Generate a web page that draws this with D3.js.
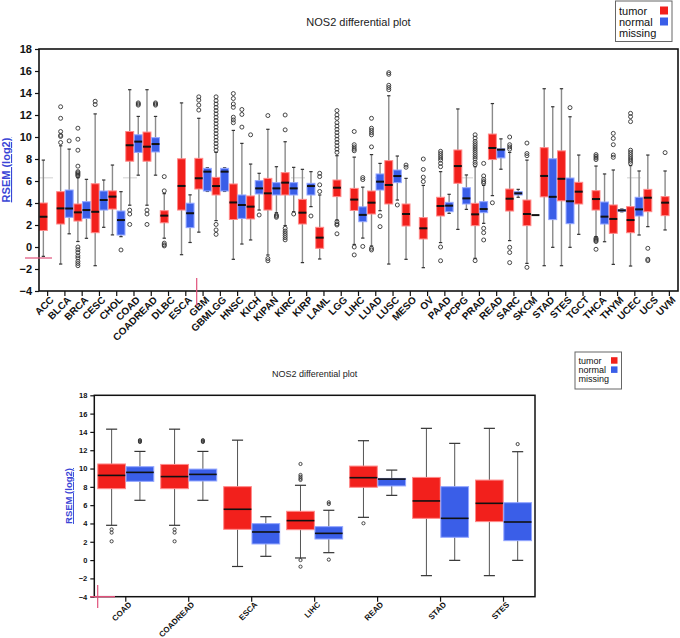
<!DOCTYPE html>
<html>
<head>
<meta charset="utf-8">
<script src="https://cdn.jsdelivr.net/npm/d3@7"></script>
<style>
body{margin:0;background:#fff}
svg{display:block;font-family:"Liberation Sans",Arial,sans-serif}
</style>
</head>
<body>
<svg width="680" height="638"></svg>
<script>
// cancer types, top panel
var cats = ["ACC","BLCA","BRCA","CESC","CHOL","COAD","COADREAD","DLBC","ESCA","GBM","GBMLGG","HNSC","KICH","KIPAN","KIRC","KIRP","LAML","LGG","LIHC","LUAD","LUSC","MESO","OV","PAAD","PCPG","PRAD","READ","SARC","SKCM","STAD","STES","TGCT","THCA","THYM","UCEC","UCS","UVM"]

// [whisker low, q1, median, q3, whisker high]
var tumor = [
  [-0.85,1.5,2.75,4.0,7.9],[-1.55,2.09,3.51,5.03,9.2],[0.5,2.36,3.15,3.91,6.3],[-1.7,1.3,3.2,5.75,12.1],
  [1.1,3.45,4.58,5.1,7.45],[3.8,7.8,9.25,10.5,14.3],[3.8,7.8,9.12,10.45,14.3],[0.8,2.2,2.85,3.3,4.85],
  [-0.7,3.36,5.55,8.02,13.1],[1.35,5.27,6.25,8.06,11.7],[2.4,4.73,5.54,6.33,8.6],[-1.12,2.5,4.05,5.73,10.6],
  [0.64,2.55,3.67,4.64,7.54],[-0.73,3.36,4.88,6.24,10.7],[1.95,4.73,5.85,6.76,9.57],[-1.42,2.09,3.12,4.33,7.06],
  [-1.09,-0.12,0.85,1.79,4.73],[2.45,4.58,5.39,6.09,8.3],[0.23,3.32,4.31,5.33,8.17],[0.09,3.0,4.03,5.09,8.4],
  [-1.55,3.91,5.64,7.85,13.75],[-1.12,1.91,3.0,3.91,6.24],[-1.88,0.73,1.7,2.67,5.6],[0.4,2.82,3.73,4.52,6.85],
  [1.6,5.79,7.36,8.82,12.55],[-1.03,1.94,2.97,3.97,7.3],[4.67,7.95,9.0,10.27,13.04],[0.58,3.27,4.39,5.27,8.6],
  [-1.49,1.94,3.0,4.27,7.9],[-1.7,4.56,6.46,9.03,14.39],[-1.7,4.2,6.2,8.74,14.39],[1.15,3.91,5.03,5.88,8.36],
  [0.94,3.36,4.36,5.12,7.36],[-1.58,1.24,2.55,3.82,7.0],[-1.73,1.3,2.45,3.67,7.4],[1.85,3.21,4.48,5.24,8.36],
  [1.55,2.85,4.03,4.58,6.91]
]
var tumor_out = [
  [],[12.75,11.7,10.5,10.15,10.05,9.5],[10.8,9.8,8.8,7.35,6.85,6.75,6.65,6.55,6.45,0.0,-0.25,-0.5,-0.8,-1.0,-1.3,-1.5,-1.7],[13.25,12.95],
  [],[3.35,3.0,2.05],[3.35,3.0,2.05],[6.4,5.1,0.35,0.2,0.1],
  [],[13.65,13.35,12.9,12.45],[13.65,13.3,13.0,12.7,12.4,12.1,11.8,11.5,11.2,10.9,10.6,10.3,10.0,9.7,9.4,9.1,8.8,2.05,1.55,1.15],[13.95,13.5,13.0,12.7,11.8,11.55,11.3],
  [10.2],[11.95,-1.05,-1.25],[12.0,10.65,1.7,1.45,1.25,1.05,0.85,0.65],[],
  [6.7,6.4,5.65,5.05],[12.4,12.0,11.7,11.3,11.0,10.7,10.4,10.1,9.8,9.5,9.2,8.9,8.6,2.3,2.1,2.0,1.2],[10.5,9.3,9.1,8.9,8.75,0.0,-0.72],[11.7,10.8,10.6,10.4,10.2,9.1,-0.12,-0.27],
  [15.85,15.7,14.7,14.5,14.3],[7.45,7.25],[8.0,7.05,6.35,5.95],[8.7,8.5,8.3,8.1,7.9,7.6,7.3,0.0,-1.25],
  [],[10.2,9.9,9.6,9.4,9.2,9.0,8.8,8.6,8.4,8.2,8.0,7.7,7.5,-1.24],[4.02],[10.0,9.3,9.1,8.9,-0.03,-0.5,-1.42],
  [9.45,8.5,8.3,-1.85],[],[],[],
  [8.4,8.25,8.1,7.95,0.8,0.7,0.6,0.5,-0.21],[10.33,9.87,9.3,8.36,8.15],[12.15,11.85,11.4,8.8,8.6,8.4,8.2,8.0,7.8,7.6],[-0.12,-1.12,-1.24],
  [8.58]
]
var normal = [
  null,[1.2,2.7,3.5,5.18,8.9],[0.79,2.6,3.36,4.12,6.15],[1.79,3.36,4.27,5.09,6.09],
  [0.94,1.09,2.45,3.27,5.03],[6.53,8.6,9.58,10.2,11.87],[6.53,8.64,9.36,9.94,11.87],null,
  [0.41,1.76,3.07,3.98,4.74],[5.05,5.09,6.85,7.15,7.2],[5.05,5.09,6.85,7.15,7.2],[0.27,2.6,3.82,4.73,9.42],
  [3.36,4.82,5.33,6.03,6.7],[3.12,4.73,5.33,5.85,7.3],[3.21,4.73,5.33,5.85,7.24],[3.67,4.73,5.54,5.79,6.85],
  null,null,[0.81,2.3,2.92,3.65,5.44],[3.3,5.18,5.94,6.64,7.6],
  [4.27,5.85,6.45,7.0,8.27],null,null,[3.06,3.21,3.76,4.06,4.79],
  [3.42,3.91,4.42,5.39,6.55],[2.15,3.12,3.45,4.12,5.6],[7.07,8.1,8.85,8.92,9.83],[4.52,4.73,4.88,5.03,5.24],
  [2.9,2.9,2.9,2.9,2.9],[-0.03,2.49,4.56,8.02,12.75],[-0.03,2.12,4.16,6.27,11.84],null,
  [0.48,2.09,2.76,4.09,6.64],[3.2,3.25,3.33,3.4,3.45],[1.09,2.82,3.42,4.52,6.91],null,
  null
]
var normal_out = [
  [],[9.65],[],[],
  [-0.27],[13.1,13.0,12.9],[13.1,13.0,12.9],[],
  [],[],[],[12.5,12.05,10.9],
  [2.91],[2.9,2.8,2.7],[3.0],[2.82],
  [],[],[6.31,6.13,0.05],[2.82,1.85],
  [3.82],[],[],[],
  [],[7.6,6.46,6.15,5.95,5.8,1.7,1.3,0.64],[],[],
  [],[],[12.67],[],
  [],[],[],[],
  []
]

// bottom panel
var zoom_cats = ["COAD","COADREAD","ESCA","LIHC","READ","STAD","STES"]

var y_ticks = [-4,-2,0,2,4,6,8,10,12,14,16,18]
var legend_names = ["tumor","normal","missing"]
var legend_colors = ["#f2201c","#3a5ee8",null]
var title_text = "NOS2 differential plot"
var y_label = "RSEM (log2)"
var overall_median = 6.3

var svg = d3.select("svg")

var panels = [
  {cats: cats, left: 39, right: 678, top: 49, bottom: 291, tick_font: 11, x_font: 10, x_weight: "bold",
   title_y: 26, title_font: 11, ylab_x: 10, ylab_font: 11, r: 2, box_frac: 0.46, cap_frac: 0.42,
   whisk_col: "#8a8a8a", whisk_w: 1.4, med_w: 2, frame_w: 1.6, dashed: true,
   leg: {x: 615.5, y: 1, w: 56.5, h: 40.5, font: 11, dy: 11, sq: 8}},
  {cats: zoom_cats, left: 94.3, right: 535, top: 395.3, bottom: 596.7, tick_font: 7.5, x_font: 8, x_weight: "bold",
   title_y: 377, title_font: 9, ylab_x: 72, ylab_font: 9.5, r: 1.6, box_frac: 0.44, cap_frac: 0.4,
   whisk_col: "#555", whisk_w: 1, med_w: 1.6, frame_w: 1.5, dashed: false,
   leg: {x: 575, y: 352, w: 46.5, h: 37, font: 9, dy: 9.2, sq: 6.5}}
]

function rows_for(list){
    var rows = []
    list.forEach(function(c){
        var i = cats.indexOf(c)
        rows.push({cat: c, kind: 0, s: tumor[i], out: tumor_out[i]})
        if (normal[i]) rows.push({cat: c, kind: 1, s: normal[i], out: normal_out[i]})
    })
    return rows
}

function draw_panel(p){
    var x = d3.scaleBand().domain(p.cats).range([p.left, p.right])
    var y = d3.scaleLinear().domain([-4, 18]).range([p.bottom, p.top])
    var w = x.bandwidth() * p.box_frac
    var g = svg.append("g")

    function bx(d){ return d.kind == 0 ? x(d.cat) + x.bandwidth()/2 - w - 0.3 : x(d.cat) + x.bandwidth()/2 + 0.3 }
    function cx(d){ return bx(d) + w/2 }

    // faint overall median line
    if (p.dashed){
        g.append("line")
          .attr("x1", p.left).attr("x2", p.right)
          .attr("y1", y(overall_median)).attr("y2", y(overall_median))
          .attr("stroke", "#e0e0e0").attr("stroke-width", 1.5)
          .attr("stroke-dasharray", "14,70")
    }

    var rows = rows_for(p.cats)
    var box = g.selectAll(".box").data(rows).enter().append("g").attr("class", "box")

    box.append("line")
      .attr("x1", cx).attr("x2", cx)
      .attr("y1", function(d){ return y(d.s[0]) })
      .attr("y2", function(d){ return y(d.s[4]) })
      .attr("stroke", p.whisk_col).attr("stroke-width", p.whisk_w)

    ;[0, 4].forEach(function(k){
        box.filter(function(d){ return d.s[0] != d.s[4] })
          .append("line")
          .attr("x1", function(d){ return cx(d) - w*p.cap_frac/2 })
          .attr("x2", function(d){ return cx(d) + w*p.cap_frac/2 })
          .attr("y1", function(d){ return y(d.s[k]) })
          .attr("y2", function(d){ return y(d.s[k]) })
          .attr("stroke", "#333").attr("stroke-width", 1.2)
    })

    box.append("rect")
      .attr("x", bx)
      .attr("y", function(d){ return y(d.s[3]) })
      .attr("width", w)
      .attr("height", function(d){ return y(d.s[1]) - y(d.s[3]) })
      .attr("fill", function(d){ return legend_colors[d.kind] })
      .attr("stroke", function(d){ return d.kind == 0 ? "#ff8a8a" : "#93a6ff" })
      .attr("stroke-width", 1)

    box.append("line")
      .attr("x1", bx)
      .attr("x2", function(d){ return bx(d) + w })
      .attr("y1", function(d){ return y(d.s[2]) })
      .attr("y2", function(d){ return y(d.s[2]) })
      .attr("stroke", "#111").attr("stroke-width", p.med_w)

    box.selectAll("circle")
      .data(function(d){ return d.out.map(function(v){ return {v: v, d: d} }) })
      .enter()
      .append("circle")
      .attr("cx", function(o){ return cx(o.d) })
      .attr("cy", function(o){ return y(o.v) })
      .attr("r", p.r)
      .attr("fill", "none")
      .attr("stroke", "#333")
      .attr("stroke-width", 0.9)

    // frame
    g.append("rect")
      .attr("x", p.left).attr("y", p.top)
      .attr("width", p.right - p.left).attr("height", p.bottom - p.top)
      .attr("fill", "none").attr("stroke", "#111").attr("stroke-width", p.frame_w)

    var ya = g.append("g")
      .attr("transform", "translate(" + p.left + ",0)")
      .call(d3.axisLeft(y).tickValues(y_ticks).tickSize(4).tickSizeOuter(0))
    ya.select(".domain").remove()
    ya.selectAll("line").attr("stroke", "#111").attr("stroke-width", 1.2)
    ya.selectAll("text")
      .attr("font-size", p.tick_font).attr("font-weight", "bold").attr("fill", "#111")
      .attr("font-family", "Liberation Sans, Arial, sans-serif")

    var xa = g.append("g")
      .attr("transform", "translate(0," + p.bottom + ")")
      .call(d3.axisBottom(x).tickSize(5).tickSizeOuter(0))
    xa.select(".domain").remove()
    xa.selectAll("line").attr("stroke", "#111").attr("stroke-width", 1.2)
    xa.selectAll("text")
      .attr("font-size", p.x_font).attr("font-weight", p.x_weight).attr("fill", "#111")
      .attr("font-family", "Liberation Sans, Arial, sans-serif")
      .attr("text-anchor", "end")
      .attr("transform", "rotate(-45)")
      .attr("dx", "-0.2em").attr("dy", "0.55em")
      .attr("y", 6).attr("x", 0)

    g.append("text")
      .text(title_text)
      .attr("x", (p.left + p.right)/2).attr("y", p.title_y)
      .attr("text-anchor", "middle")
      .attr("font-size", p.title_font).attr("fill", "#222")

    g.append("text")
      .text(y_label)
      .attr("transform", "translate(" + p.ylab_x + "," + (p.top + p.bottom)/2 + ") rotate(-90)")
      .attr("text-anchor", "middle")
      .attr("font-size", p.ylab_font).attr("font-weight", "bold")
      .attr("fill", "#3b46d6")
      .style("text-decoration", "underline")

    // legend
    var L = p.leg
    var lg = g.append("g")
    lg.append("rect")
      .attr("x", L.x).attr("y", L.y).attr("width", L.w).attr("height", L.h)
      .attr("fill", "#fff").attr("stroke", "#666").attr("stroke-width", 1)
    lg.selectAll(".lt").data(legend_names).enter().append("text")
      .attr("class", "lt")
      .text(function(d){ return d })
      .attr("x", L.x + 3.5)
      .attr("y", function(d, i){ return L.y + L.dy*(i+1) + 2.5 })
      .attr("font-size", L.font).attr("fill", "#111")
    lg.selectAll(".ls").data(legend_colors.filter(function(c){ return c })).enter().append("rect")
      .attr("class", "ls")
      .attr("x", L.x + L.w - L.sq - 4)
      .attr("y", function(d, i){ return L.y + L.dy*(i+1) + 2.5 - L.sq })
      .attr("width", L.sq).attr("height", L.sq)
      .attr("fill", function(d){ return d })

    return {x: x, y: y}
}

var top_sc = draw_panel(panels[0])
var bot_sc = draw_panel(panels[1])

// pink cursor marks left on the original
svg.append("line")
  .attr("x1", 25).attr("x2", 52)
  .attr("y1", top_sc.y(-1)).attr("y2", top_sc.y(-1))
  .attr("stroke", "#e0507a").attr("stroke-width", 1.2)
svg.append("line")
  .attr("x1", 196.7).attr("x2", 196.7)
  .attr("y1", 278).attr("y2", 306)
  .attr("stroke", "#e0507a").attr("stroke-width", 1.2)
svg.append("line")
  .attr("x1", 97.7).attr("x2", 97.7)
  .attr("y1", 585).attr("y2", 608)
  .attr("stroke", "#e0507a").attr("stroke-width", 1.2)
svg.append("line")
  .attr("x1", 90).attr("x2", 115)
  .attr("y1", bot_sc.y(-4)).attr("y2", bot_sc.y(-4))
  .attr("stroke", "#e0507a").attr("stroke-width", 1.4)
</script>
</body>
</html>
